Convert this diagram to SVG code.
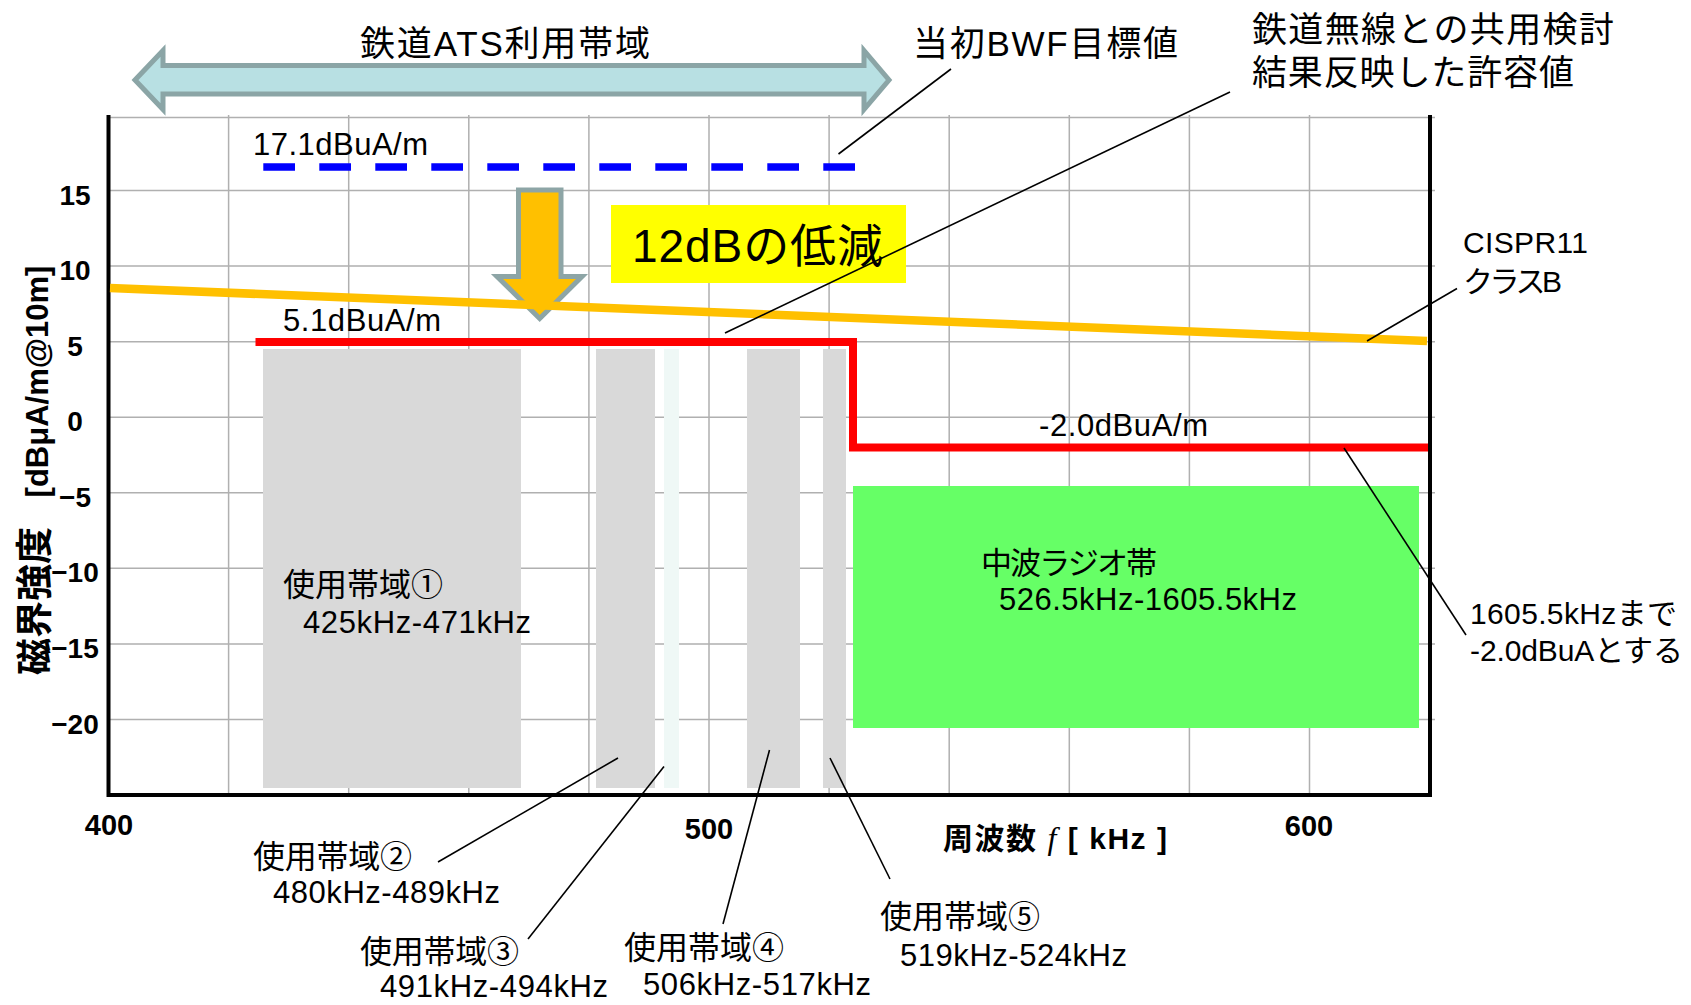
<svg xmlns="http://www.w3.org/2000/svg" width="1691" height="1005" viewBox="0 0 1691 1005">
<defs>
<style>
text{font-family:'Liberation Sans','Noto Sans CJK JP',sans-serif;fill:#000}
.grid{stroke:#B0B0B0;stroke-width:1.5;fill:none}
.axis{stroke:#000;stroke-width:4;fill:none}
.tick{font-size:28px;font-weight:bold;text-anchor:middle}
.xt{font-size:29px;font-weight:bold;text-anchor:middle}
.lbl{font-size:31px}
.jp{font-size:32px}
.band{fill:#D9D9D9}
.leader{stroke:#000;stroke-width:1.6;fill:none}
.big{font-size:35px}
</style>
</defs>
<rect width="1691" height="1005" fill="#fff"/>

<g id="grid">
<path class="grid" d="M108,117.5H1435M108,190.4H1435M108,266H1435M108,341.7H1435M108,417.3H1435M108,492.7H1435M108,568.3H1435M108,644H1435M108,719.6H1435"/>
<path class="grid" d="M228.6,115V797M348.7,115V797M468.8,115V797M588.9,115V797M709,115V797M829.1,115V797M949.2,115V797M1069.3,115V797M1189.4,115V797M1309.5,115V797"/>
</g>

<g id="bands">
<rect id="band1" class="band" x="263" y="349" width="258" height="439"/>
<rect id="band2" class="band" x="596" y="349" width="59" height="439"/>
<rect id="band3" x="664" y="349" width="15" height="439" fill="#EFF8F6"/>
<rect id="band4" class="band" x="747" y="349" width="53" height="439"/>
<rect id="band5" class="band" x="823" y="349" width="23" height="439"/>
</g>

<g id="am-radio">
<rect x="853" y="486" width="566" height="242" fill="#66FF66"/>
<text class="lbl" x="981" y="574" font-size="30" textLength="176">中波ラジオ帯</text>
<text class="lbl" x="999" y="610" textLength="298">526.5kHz-1605.5kHz</text>
</g>

<g id="axes">
<path class="axis" d="M108.5,115V795H1432"/>
<path class="axis" d="M1430,115V797"/>
</g>

<g id="y-ticks">
<text class="tick" x="75" y="204.5">15</text>
<text class="tick" x="75" y="280">10</text>
<text class="tick" x="75" y="355.7">5</text>
<text class="tick" x="75" y="431.3">0</text>
<text class="tick" x="75" y="506.7">−5</text>
<text class="tick" x="75" y="582.3">−10</text>
<text class="tick" x="75" y="658">−15</text>
<text class="tick" x="75" y="733.6">−20</text>
</g>

<g id="x-ticks">
<text class="xt" x="109" y="835">400</text>
<text class="xt" x="709" y="838.5">500</text>
<text class="xt" x="1309" y="835.5">600</text>
</g>

<g id="y-title">
<text transform="translate(48,675) rotate(-90)" font-weight="bold"><tspan font-size="37">磁界強度</tspan><tspan font-size="31" dx="21"> [dBμA/m@10m]</tspan></text>
</g>

<g id="x-title">
<text x="943" y="849" font-size="30" font-weight="bold" textLength="224">周波数 <tspan font-family="'Liberation Serif',serif" font-style="italic" font-weight="normal" font-size="32">f</tspan> [ kHz ]</text>
</g>

<g id="down-arrow">
<polygon points="518.5,190 561,190 561,276.5 582,276.5 539.7,318.5 497,276.5 518.5,276.5" fill="#FFC000" stroke="#8DA5A6" stroke-width="5"/>
</g>

<g id="cispr11-line">
<line x1="110" y1="288" x2="1427" y2="341" stroke="#FFC000" stroke-width="8.5"/>
</g>

<g id="limit-line">
<path d="M255.5,342H853V447.5H1428" fill="none" stroke="#FF0000" stroke-width="8"/>
</g>

<g id="bwf-line">
<line x1="263.3" y1="167" x2="855" y2="167" stroke="#0000FF" stroke-width="7.3" stroke-dasharray="31.7 24.3"/>
</g>

<g id="ats-arrow">
<polygon points="135,80 163,50.5 163,65.5 864,65.5 864,50.5 889,80 864,109.5 864,94 163,94 163,109.5" fill="#B8E0E3" stroke="#8BA5A6" stroke-width="5"/>
<text class="big" x="360" y="56" textLength="290">鉄道ATS利用帯域</text>
</g>

<g id="reduction-box">
<rect x="611" y="205" width="295" height="78" fill="#FFFF00"/>
<text x="632" y="262" font-size="46" textLength="251">12dBの低減</text>
</g>

<g id="labels">
<text class="lbl" x="253" y="155" textLength="175">17.1dBuA/m</text>
<text class="lbl" x="283" y="331" textLength="158">5.1dBuA/m</text>
<text class="lbl" x="1039" y="436" textLength="169">-2.0dBuA/m</text>
<text class="big" x="913" y="56" textLength="265">当初BWF目標値</text>
<text x="1252" y="42" font-size="35" textLength="362">鉄道無線との共用検討</text>
<text x="1252" y="85" font-size="35" textLength="322">結果反映した許容値</text>
<text x="1463" y="253" font-size="30" textLength="125">CISPR11</text>
<text x="1463" y="291.5" font-size="30" textLength="99">クラスB</text>
<text x="1470" y="624" font-size="30" textLength="207">1605.5kHzまで</text>
<text x="1470" y="661" font-size="30" textLength="213">-2.0dBuAとする</text>
</g>

<g id="band1-label">
<text class="jp" x="283" y="596" textLength="160">使用帯域①</text>
<text class="lbl" x="303" y="633" textLength="228">425kHz-471kHz</text>
</g>
<g id="band2-label">
<text class="jp" x="253" y="868" textLength="159">使用帯域②</text>
<text class="lbl" x="273" y="903" textLength="227">480kHz-489kHz</text>
</g>
<g id="band3-label">
<text class="jp" x="360" y="963" textLength="159">使用帯域③</text>
<text class="lbl" x="380" y="997" font-size="30" textLength="228">491kHz-494kHz</text>
</g>
<g id="band4-label">
<text class="jp" x="624" y="959" textLength="160">使用帯域④</text>
<text class="lbl" x="643" y="995" textLength="228">506kHz-517kHz</text>
</g>
<g id="band5-label">
<text class="jp" x="880" y="928" textLength="160">使用帯域⑤</text>
<text class="lbl" x="900" y="966" textLength="227">519kHz-524kHz</text>
</g>

<g id="connectors">
<line class="leader" x1="951" y1="69" x2="838.5" y2="154"/>
<line class="leader" x1="1230" y1="92" x2="725" y2="333"/>
<line class="leader" x1="1457" y1="288.5" x2="1367" y2="341"/>
<line class="leader" x1="1344" y1="448" x2="1466" y2="635"/>
<line class="leader" x1="618" y1="758" x2="438" y2="862"/>
<line class="leader" x1="664" y1="766.5" x2="528" y2="939"/>
<line class="leader" x1="769.5" y1="750" x2="723" y2="924"/>
<line class="leader" x1="830" y1="758" x2="890" y2="879"/>
</g>
</svg>
